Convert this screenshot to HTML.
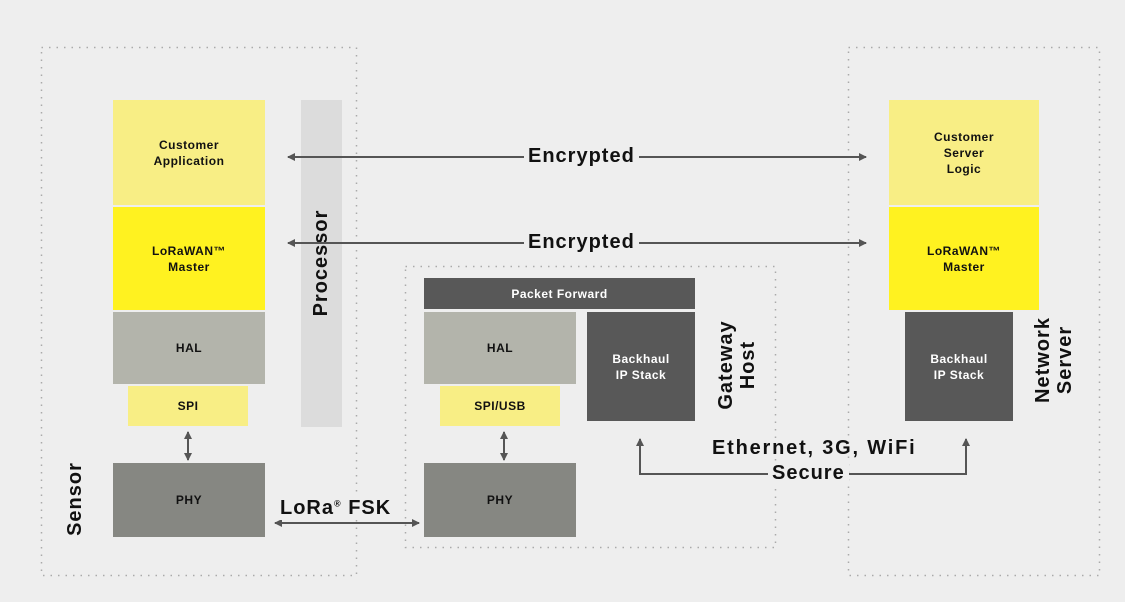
<!DOCTYPE html>
<html><head><style>
body{margin:0;width:1125px;height:602px;background:#eeeeee;position:relative;overflow:hidden;font-family:"Liberation Sans",sans-serif;font-weight:bold}
.b{position:absolute;display:flex;align-items:center;justify-content:center;text-align:center;font-size:12px;line-height:16px;color:#111;letter-spacing:0.5px}
.y1{background:#f8ee85}.y2{background:#fff220}.g1{background:#b3b4ab}.g2{background:#868782}.d{background:#585858;color:#fff}
.rot{position:absolute;transform:rotate(-90deg);transform-origin:center;font-size:20px;line-height:22px;color:#111;text-align:center;white-space:nowrap;letter-spacing:1px}
.lbl{position:absolute;font-size:20px;color:#111;background:#eeeeee;padding:0 4px;white-space:nowrap;letter-spacing:1px}
</style></head><body>
<svg style="position:absolute;left:0;top:0" width="1125" height="602">
<g fill="none" stroke="#aaa" stroke-width="1.5" stroke-dasharray="1.5 6">
<rect x="41.5" y="47.5" width="315" height="528"/>
<rect x="405.5" y="266.5" width="370" height="281"/>
<rect x="848.5" y="47.5" width="251" height="528"/>
</g></svg>

<div class="b y1" style="left:113px;top:100px;width:152px;height:105px">Customer<br>Application</div>
<div class="b y2" style="left:113px;top:207px;width:152px;height:103px">LoRaWAN™<br>Master</div>
<div class="b g1" style="left:113px;top:312px;width:152px;height:72px">HAL</div>
<div class="b y1" style="left:128px;top:386px;width:120px;height:40px">SPI</div>
<div class="b g2" style="left:113px;top:463px;width:152px;height:74px">PHY</div>
<div style="position:absolute;left:301px;top:100px;width:41px;height:327px;background:#dcdcdc"></div>
<div class="rot" style="left:261px;top:252px;width:120px">Processor</div>
<div class="rot" style="left:35px;top:488px;width:80px">Sensor</div>

<div class="b d" style="left:424px;top:278px;width:271px;height:31px">Packet Forward</div>
<div class="b g1" style="left:424px;top:312px;width:152px;height:72px">HAL</div>
<div class="b y1" style="left:440px;top:386px;width:120px;height:40px">SPI/USB</div>
<div class="b g2" style="left:424px;top:463px;width:152px;height:74px">PHY</div>
<div class="b d" style="left:587px;top:312px;width:108px;height:109px">Backhaul<br>IP Stack</div>
<div class="rot" style="left:687px;top:343px;width:100px">Gateway<br>Host</div>

<div class="b y1" style="left:889px;top:100px;width:150px;height:105px">Customer<br>Server<br>Logic</div>
<div class="b y2" style="left:889px;top:207px;width:150px;height:103px">LoRaWAN™<br>Master</div>
<div class="b d" style="left:905px;top:312px;width:108px;height:109px">Backhaul<br>IP Stack</div>
<div class="rot" style="left:1004px;top:338px;width:100px">Network<br>Server</div>

<svg style="position:absolute;left:0;top:0" width="1125" height="602">
<defs><marker id="a" markerWidth="8" markerHeight="8" refX="7" refY="4" orient="auto-start-reverse" markerUnits="userSpaceOnUse"><path d="M0,0L8,4L0,8z" fill="#555"/></marker></defs>
<g stroke="#555" stroke-width="2" fill="none">
<line x1="288" y1="157" x2="866" y2="157" marker-start="url(#a)" marker-end="url(#a)"/>
<line x1="288" y1="243" x2="866" y2="243" marker-start="url(#a)" marker-end="url(#a)"/>
<line x1="275" y1="523" x2="419" y2="523" marker-start="url(#a)" marker-end="url(#a)"/>
<line x1="188" y1="432" x2="188" y2="460" marker-start="url(#a)" marker-end="url(#a)"/>
<line x1="504" y1="432" x2="504" y2="460" marker-start="url(#a)" marker-end="url(#a)"/>
<polyline points="640,439 640,474 966,474 966,439" marker-start="url(#a)" marker-end="url(#a)"/>
</g></svg>
<div class="lbl" style="left:524px;top:145px">Encrypted</div>
<div class="lbl" style="left:524px;top:231px">Encrypted</div>
<div class="lbl" style="left:280px;top:497px;padding:0">LoRa<sup style="font-size:9px">®</sup> FSK</div>
<div class="lbl" style="left:708px;top:437px;background:none;letter-spacing:1.8px">Ethernet, 3G, WiFi</div>
<div class="lbl" style="left:768px;top:462px">Secure</div>
</body></html>
